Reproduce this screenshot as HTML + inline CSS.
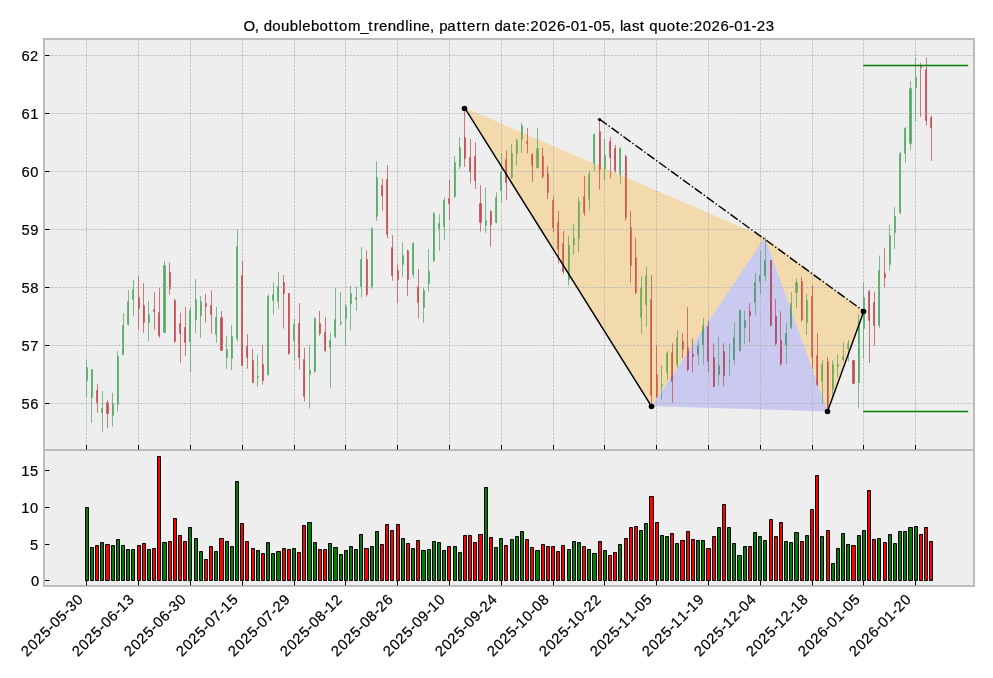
<!DOCTYPE html>
<html><head><meta charset="utf-8"><title>chart</title>
<style>html,body{margin:0;padding:0;background:#fff;}body{width:993px;height:678px;overflow:hidden;font-family:"Liberation Sans",sans-serif;}svg{display:block;}</style>
</head><body>
<svg width="993" height="678" viewBox="0 0 993 678">
<rect x="0" y="0" width="993" height="678" fill="#ffffff"/>
<rect x="44.0" y="39.0" width="930.0" height="547.0" fill="#eeeeee"/>
<path d="M86.15 367.15H87.85V380.85H86.15zM91.15 369.15H92.85V397.85H91.15zM101.15 408.15H102.85V412.85H101.15zM112.15 403.15H113.85V415.85H112.15zM117.15 356.15H118.85V404.85H117.15zM122.15 325.15H123.85V354.85H122.15zM127.15 301.15H128.85V324.85H127.15zM132.15 289.15H133.85V299.85H132.15zM148.15 314.15H149.85V322.85H148.15zM163.15 265.15H165.85V332.85H163.15zM189.15 310.15H190.85V341.85H189.15zM195.15 299.15H196.85V319.85H195.15zM200.15 301.15H201.85V315.85H200.15zM215.15 317.15H216.85V334.85H215.15zM226.15 349.15H227.85V357.85H226.15zM231.15 336.15H232.85V358.85H231.15zM236.15 246.15H237.85V338.85H236.15zM257.15 376.15H258.85V377.85H257.15zM267.15 296.15H268.85V374.85H267.15zM272.15 294.15H273.85V300.85H272.15zM277.15 286.15H278.85V301.85H277.15zM293.15 324.15H294.85V340.85H293.15zM309.15 370.15H310.85V374.85H309.15zM314.15 318.15H315.85V371.85H314.15zM329.15 340.15H330.85V347.85H329.15zM334.15 319.15H335.85V336.85H334.15zM340.15 322.15H341.85V323.85H340.15zM345.15 306.15H346.85V318.85H345.15zM350.15 293.15H351.85V303.85H350.15zM355.15 297.15H356.85V299.85H355.15zM360.15 259.15H361.85V286.85H360.15zM371.15 228.15H372.85V286.85H371.15zM376.15 177.15H377.85V216.85H376.15zM402.15 255.15H403.85V264.85H402.15zM412.15 243.15H413.85V274.85H412.15zM423.15 290.15H424.85V307.85H423.15zM428.15 271.15H429.85V283.85H428.15zM433.15 213.15H434.85V260.85H433.15zM438.15 223.15H439.85V228.85H438.15zM443.15 200.15H444.85V226.85H443.15zM454.15 162.15H455.85V196.85H454.15zM459.15 147.15H460.85V166.85H459.15zM485.15 220.15H486.85V225.85H485.15zM495.15 197.15H496.85V222.85H495.15zM500.15 172.15H501.85V190.85H500.15zM511.15 153.15H512.85V177.85H511.15zM516.15 140.15H517.85V153.85H516.15zM521.15 125.15H522.85V139.85H521.15zM536.15 148.15H538.85V167.85H536.15zM568.15 245.15H569.85V279.85H568.15zM573.15 238.15H574.85V244.85H573.15zM578.15 201.15H579.85V238.85H578.15zM588.15 174.15H589.85V199.85H588.15zM593.15 134.15H594.85V163.85H593.15zM604.15 155.15H605.85V168.85H604.15zM619.15 148.15H620.85V174.85H619.15zM640.15 288.15H641.85V317.85H640.15zM645.15 275.15H646.85V304.85H645.15zM661.15 384.15H662.85V385.85H661.15zM666.15 353.15H667.85V372.85H666.15zM676.15 337.15H677.85V364.85H676.15zM697.15 345.15H698.85V354.85H697.15zM702.15 325.15H703.85V344.85H702.15zM718.15 365.15H719.85V374.85H718.15zM728.15 361.15H729.85V361.85H728.15zM733.15 337.15H734.85V359.85H733.15zM739.15 310.15H740.85V350.85H739.15zM744.15 320.15H745.85V327.85H744.15zM754.15 282.15H755.85V302.85H754.15zM759.15 275.15H760.85V281.85H759.15zM764.15 260.15H765.85V275.85H764.15zM785.15 333.15H786.85V345.85H785.15zM790.15 303.15H791.85V327.85H790.15zM795.15 282.15H797.85V292.85H795.15zM806.15 300.15H807.85V322.85H806.15zM821.15 364.15H822.85V381.85H821.15zM832.15 364.15H833.85V389.85H832.15zM837.15 364.15H838.85V366.85H837.15zM842.15 356.15H843.85V359.85H842.15zM847.15 343.15H848.85V348.85H847.15zM858.15 323.15H859.85V382.85H858.15zM863.15 297.15H864.85V328.85H863.15zM878.15 270.15H879.85V325.85H878.15zM889.15 235.15H890.85V264.85H889.15zM894.15 216.15H895.85V232.85H894.15zM899.15 153.15H900.85V212.85H899.15zM904.15 128.15H905.85V153.85H904.15zM909.15 88.15H911.85V143.85H909.15zM915.15 77.15H916.85V87.85H915.15z" fill="#55A868"/>
<path d="M96.15 390.15H97.85V402.85H96.15zM106.15 402.15H108.85V413.85H106.15zM138.15 297.15H139.85V308.85H138.15zM143.15 305.15H144.85V322.85H143.15zM153.15 309.15H154.85V311.85H153.15zM158.15 312.15H159.85V335.85H158.15zM169.15 272.15H170.85V288.85H169.15zM174.15 300.15H175.85V341.85H174.15zM179.15 323.15H180.85V333.85H179.15zM184.15 327.15H185.85V342.85H184.15zM205.15 303.15H206.85V306.85H205.15zM210.15 305.15H211.85V314.85H210.15zM220.15 317.15H222.85V350.85H220.15zM241.15 275.15H242.85V365.85H241.15zM246.15 346.15H247.85V357.85H246.15zM252.15 360.15H253.85V382.85H252.15zM262.15 364.15H263.85V380.85H262.15zM283.15 282.15H284.85V293.85H283.15zM288.15 293.15H289.85V353.85H288.15zM298.15 323.15H299.85V357.85H298.15zM303.15 359.15H304.85V396.85H303.15zM319.15 323.15H320.85V333.85H319.15zM324.15 332.15H325.85V350.85H324.15zM366.15 259.15H367.85V294.85H366.15zM381.15 185.15H382.85V195.85H381.15zM386.15 179.15H387.85V234.85H386.15zM391.15 247.15H392.85V275.85H391.15zM397.15 270.15H398.85V279.85H397.15zM407.15 250.15H408.85V279.85H407.15zM417.15 286.15H418.85V302.85H417.15zM448.15 198.15H449.85V203.85H448.15zM464.15 137.15H465.85V158.85H464.15zM469.15 157.15H470.85V171.85H469.15zM474.15 156.15H475.85V180.85H474.15zM479.15 203.15H481.85V222.85H479.15zM490.15 211.15H491.85V224.85H490.15zM505.15 159.15H506.85V182.85H505.15zM526.15 141.15H527.85V143.85H526.15zM531.15 154.15H532.85V165.85H531.15zM542.15 156.15H543.85V176.85H542.15zM547.15 173.15H548.85V192.85H547.15zM552.15 200.15H553.85V227.85H552.15zM557.15 222.15H558.85V249.85H557.15zM562.15 243.15H563.85V271.85H562.15zM583.15 196.15H584.85V212.85H583.15zM599.15 131.15H600.85V169.85H599.15zM609.15 141.15H610.85V157.85H609.15zM614.15 148.15H615.85V170.85H614.15zM625.15 156.15H626.85V217.85H625.15zM630.15 227.15H631.85V265.85H630.15zM635.15 257.15H636.85V292.85H635.15zM650.15 299.15H651.85V395.85H650.15zM656.15 374.15H657.85V396.85H656.15zM671.15 352.15H672.85V381.85H671.15zM682.15 341.15H683.85V349.85H682.15zM687.15 347.15H688.85V369.85H687.15zM692.15 354.15H693.85V356.85H692.15zM707.15 326.15H708.85V361.85H707.15zM713.15 357.15H714.85V386.85H713.15zM723.15 351.15H724.85V375.85H723.15zM749.15 311.15H750.85V315.85H749.15zM770.15 260.15H771.85V325.85H770.15zM775.15 316.15H776.85V343.85H775.15zM780.15 340.15H781.85V363.85H780.15zM801.15 281.15H802.85V319.85H801.15zM811.15 296.15H812.85V357.85H811.15zM816.15 355.15H817.85V384.85H816.15zM827.15 361.15H828.85V407.85H827.15zM852.15 360.15H854.85V383.85H852.15zM868.15 291.15H869.85V320.85H868.15zM873.15 302.15H874.85V325.85H873.15zM884.15 273.15H885.85V277.85H884.15zM920.15 65.15H921.85V67.85H920.15zM925.15 69.15H926.85V120.85H925.15zM930.15 117.15H931.85V127.85H930.15z" fill="#C44E52"/>
<polygon points="464.97,107.9 764.93,237.4 651.46,406.2" fill="#ffa500" fill-opacity="0.27"/>
<polygon points="764.93,237.4 863.86,311.3 827.60,411.4" fill="#ffa500" fill-opacity="0.27"/>
<polygon points="651.46,406.2 764.93,237.4 827.60,411.4" fill="#0000ff" fill-opacity="0.15"/>
<g stroke="#b2b2b2" stroke-width="0.7" stroke-dasharray="2.57 1.11" fill="none">
<path d="M86.5 450.0V39.0"/>
<path d="M138.5 450.0V39.0"/>
<path d="M190.5 450.0V39.0"/>
<path d="M242.5 450.0V39.0"/>
<path d="M294.5 450.0V39.0"/>
<path d="M345.5 450.0V39.0"/>
<path d="M397.5 450.0V39.0"/>
<path d="M449.5 450.0V39.0"/>
<path d="M501.5 450.0V39.0"/>
<path d="M553.5 450.0V39.0"/>
<path d="M604.5 450.0V39.0"/>
<path d="M656.5 450.0V39.0"/>
<path d="M708.5 450.0V39.0"/>
<path d="M760.5 450.0V39.0"/>
<path d="M812.5 450.0V39.0"/>
<path d="M863.5 450.0V39.0"/>
<path d="M915.5 450.0V39.0"/>
<path d="M44.0 403.5H974.0"/>
<path d="M44.0 345.5H974.0"/>
<path d="M44.0 287.5H974.0"/>
<path d="M44.0 229.5H974.0"/>
<path d="M44.0 171.5H974.0"/>
<path d="M44.0 113.5H974.0"/>
<path d="M44.0 55.5H974.0"/>
</g>
<path d="M86.5 360.2V397.8M91.5 369.0V422.9M102.5 391.1V431.7M112.5 392.8V426.6M117.5 351.0V411.6M123.5 313.1V355.2M128.5 290.1V325.6M133.5 280.0V315.9M148.5 300.9V340.8M164.5 260.8V332.8M190.5 307.2V372.1M195.5 278.9V332.8M200.5 295.9V337.8M216.5 307.0V342.8M226.5 336.0V369.1M231.5 324.7V370.4M237.5 229.5V341.5M257.5 354.8V386.6M268.5 294.4V375.8M273.5 282.1V314.7M278.5 272.1V308.9M294.5 318.9V360.3M309.5 345.3V408.7M314.5 316.9V372.8M330.5 332.7V387.9M335.5 288.1V338.2M340.5 291.9V325.7M345.5 303.9V345.3M350.5 285.9V330.2M356.5 286.4V310.9M361.5 247.2V297.4M371.5 227.2V288.6M376.5 161.3V220.7M402.5 242.2V276.6M413.5 242.2V277.8M423.5 287.3V322.9M428.5 249.0V291.6M433.5 211.9V262.3M439.5 214.4V250.8M444.5 197.8V239.9M454.5 155.9V197.8M459.5 137.1V169.4M485.5 187.7V232.8M496.5 192.0V223.3M501.5 153.1V202.8M511.5 143.9V179.0M516.5 138.9V165.7M521.5 123.1V153.1M537.5 128.1V168.4M568.5 236.1V285.6M573.5 223.5V254.9M578.5 197.0V252.4M589.5 170.9V210.3M594.5 133.1V170.9M604.5 138.8V180.2M620.5 147.1V183.9M641.5 276.3V334.0M646.5 267.1V326.5M661.5 365.3V400.4M667.5 351.1V380.4M677.5 330.3V367.8M698.5 341.0V365.3M703.5 318.2V364.6M718.5 336.5V385.4M729.5 343.3V376.6M734.5 322.2V364.6M739.5 308.9V352.3M744.5 311.0V344.0M755.5 272.6V315.2M760.5 250.8V294.4M765.5 237.0V281.4M786.5 322.8V363.9M791.5 292.0V329.1M796.5 278.2V308.4M806.5 294.0V334.9M822.5 360.2V403.3M832.5 360.2V397.0M837.5 354.4V377.4M843.5 342.1V361.5M848.5 340.0V361.5M858.5 314.2V408.5M863.5 282.5V358.7M879.5 255.6V328.1M889.5 224.6V270.6M894.5 206.7V249.0M900.5 152.0V214.7M905.5 127.0V162.9M910.5 81.0V150.0M915.5 57.4V121.2" stroke="#55A868" stroke-width="0.75" fill="none"/>
<path d="M97.5 384.0V412.9M107.5 400.3V428.4M138.5 276.4V329.8M143.5 283.1V332.8M154.5 292.2V329.8M159.5 287.7V337.8M169.5 262.6V294.7M174.5 298.9V342.8M180.5 312.7V362.8M185.5 307.2V355.8M205.5 293.9V322.7M211.5 290.2V333.5M221.5 311.0V350.8M242.5 260.8V365.8M247.5 334.0V368.6M252.5 349.0V382.8M262.5 345.3V384.6M283.5 275.1V328.5M288.5 293.1V354.8M299.5 303.1V369.6M304.5 347.8V401.6M319.5 310.9V335.7M325.5 316.9V352.0M366.5 250.3V296.6M382.5 178.8V210.7M387.5 165.0V238.5M392.5 235.2V280.8M397.5 264.8V303.4M407.5 249.7V295.9M418.5 269.0V318.4M449.5 179.7V219.8M464.5 108.3V166.9M470.5 138.9V183.5M475.5 142.1V189.0M480.5 185.2V231.6M490.5 210.3V246.6M506.5 150.1V200.3M527.5 128.1V153.4M532.5 153.1V182.0M542.5 147.6V178.5M547.5 166.4V199.0M553.5 196.5V232.3M558.5 211.0V263.4M563.5 231.1V274.2M584.5 175.9V215.8M599.5 119.3V189.7M610.5 136.8V178.2M615.5 145.1V172.7M625.5 154.6V220.8M630.5 211.0V282.6M635.5 237.8V294.4M651.5 275.1V406.2M656.5 345.3V398.0M672.5 343.3V402.9M682.5 332.8V358.3M687.5 307.2V371.6M692.5 338.3V372.4M708.5 320.7V372.4M713.5 343.3V387.4M723.5 343.3V386.1M749.5 303.2V342.3M770.5 260.1V326.5M775.5 299.2V345.8M780.5 311.3V365.9M801.5 276.8V321.9M812.5 285.4V368.8M817.5 332.9V386.1M827.5 357.1V411.4M853.5 360.2V383.7M869.5 289.7V363.1M874.5 291.7V345.8M884.5 248.2V287.0M920.5 62.8V116.9M926.5 57.9V125.5M931.5 115.5V160.9" stroke="#C44E52" stroke-width="0.75" fill="none"/>
<g stroke="#000" stroke-width="1.45" fill="none">
<path d="M464.97 108.3L651.46 406.2" stroke-linecap="square"/>
<path d="M827.60 411.4L863.86 311.3" stroke-linecap="square"/>
<path d="M599.66 119.3L863.86 311.3" stroke-dasharray="8.9 2.2 1.4 2.2"/>
</g>
<circle cx="464.5" cy="108.5" r="2.8" fill="#000"/>
<circle cx="651.5" cy="406.5" r="2.8" fill="#000"/>
<circle cx="827.5" cy="411.5" r="2.8" fill="#000"/>
<circle cx="863.5" cy="311.5" r="2.8" fill="#000"/>
<circle cx="599.5" cy="119.5" r="1.6" fill="#000"/>
<g stroke="#008000" stroke-width="1.4" fill="none" stroke-linecap="square">
<path d="M863.86 65.5H967.47"/>
<path d="M863.86 411.5H967.47"/>
</g>
<path d="M85.5 507.5H88.5V580.5H85.5zM90.5 547.5H93.5V580.5H90.5zM100.5 542.5H103.5V580.5H100.5zM111.5 545.5H114.5V580.5H111.5zM116.5 539.5H119.5V580.5H116.5zM121.5 545.5H124.5V580.5H121.5zM126.5 549.5H129.5V580.5H126.5zM131.5 549.5H134.5V580.5H131.5zM147.5 549.5H150.5V580.5H147.5zM162.5 542.5H166.5V580.5H162.5zM188.5 527.5H191.5V580.5H188.5zM194.5 538.5H197.5V580.5H194.5zM199.5 551.5H202.5V580.5H199.5zM214.5 551.5H217.5V580.5H214.5zM225.5 541.5H228.5V580.5H225.5zM230.5 546.5H233.5V580.5H230.5zM235.5 481.5H238.5V580.5H235.5zM256.5 550.5H259.5V580.5H256.5zM266.5 542.5H269.5V580.5H266.5zM271.5 553.5H274.5V580.5H271.5zM276.5 551.5H280.5V580.5H276.5zM292.5 548.5H295.5V580.5H292.5zM307.5 522.5H311.5V580.5H307.5zM313.5 542.5H316.5V580.5H313.5zM328.5 543.5H331.5V580.5H328.5zM333.5 547.5H337.5V580.5H333.5zM339.5 554.5H342.5V580.5H339.5zM344.5 550.5H347.5V580.5H344.5zM349.5 546.5H352.5V580.5H349.5zM354.5 549.5H357.5V580.5H354.5zM359.5 534.5H362.5V580.5H359.5zM370.5 546.5H373.5V580.5H370.5zM375.5 531.5H378.5V580.5H375.5zM401.5 538.5H404.5V580.5H401.5zM411.5 548.5H414.5V580.5H411.5zM421.5 550.5H425.5V580.5H421.5zM427.5 549.5H430.5V580.5H427.5zM432.5 541.5H435.5V580.5H432.5zM437.5 542.5H440.5V580.5H437.5zM442.5 550.5H445.5V580.5H442.5zM453.5 546.5H456.5V580.5H453.5zM458.5 552.5H461.5V580.5H458.5zM484.5 487.5H487.5V580.5H484.5zM494.5 547.5H497.5V580.5H494.5zM499.5 538.5H502.5V580.5H499.5zM510.5 539.5H513.5V580.5H510.5zM515.5 536.5H518.5V580.5H515.5zM520.5 531.5H523.5V580.5H520.5zM535.5 550.5H539.5V580.5H535.5zM567.5 549.5H570.5V580.5H567.5zM572.5 541.5H575.5V580.5H572.5zM577.5 542.5H580.5V580.5H577.5zM587.5 549.5H590.5V580.5H587.5zM592.5 553.5H596.5V580.5H592.5zM603.5 550.5H606.5V580.5H603.5zM618.5 544.5H621.5V580.5H618.5zM639.5 530.5H642.5V580.5H639.5zM644.5 523.5H647.5V580.5H644.5zM660.5 535.5H663.5V580.5H660.5zM665.5 536.5H668.5V580.5H665.5zM675.5 543.5H678.5V580.5H675.5zM696.5 540.5H699.5V580.5H696.5zM701.5 540.5H704.5V580.5H701.5zM717.5 527.5H720.5V580.5H717.5zM727.5 527.5H730.5V580.5H727.5zM732.5 543.5H735.5V580.5H732.5zM737.5 555.5H741.5V580.5H737.5zM743.5 546.5H746.5V580.5H743.5zM753.5 532.5H756.5V580.5H753.5zM758.5 536.5H761.5V580.5H758.5zM763.5 540.5H766.5V580.5H763.5zM784.5 541.5H787.5V580.5H784.5zM789.5 542.5H792.5V580.5H789.5zM794.5 532.5H798.5V580.5H794.5zM805.5 535.5H808.5V580.5H805.5zM820.5 536.5H823.5V580.5H820.5zM831.5 563.5H834.5V580.5H831.5zM836.5 548.5H839.5V580.5H836.5zM841.5 533.5H844.5V580.5H841.5zM846.5 544.5H849.5V580.5H846.5zM857.5 535.5H860.5V580.5H857.5zM862.5 530.5H865.5V580.5H862.5zM877.5 538.5H880.5V580.5H877.5zM888.5 534.5H891.5V580.5H888.5zM893.5 543.5H896.5V580.5H893.5zM898.5 531.5H901.5V580.5H898.5zM903.5 531.5H906.5V580.5H903.5zM908.5 527.5H912.5V580.5H908.5zM914.5 526.5H917.5V580.5H914.5z" fill="#008000" stroke="#000" stroke-width="1"/>
<path d="M95.5 545.5H98.5V580.5H95.5zM105.5 544.5H109.5V580.5H105.5zM137.5 545.5H140.5V580.5H137.5zM142.5 543.5H145.5V580.5H142.5zM152.5 548.5H155.5V580.5H152.5zM157.5 456.5H160.5V580.5H157.5zM168.5 541.5H171.5V580.5H168.5zM173.5 518.5H176.5V580.5H173.5zM178.5 535.5H181.5V580.5H178.5zM183.5 541.5H186.5V580.5H183.5zM204.5 559.5H207.5V580.5H204.5zM209.5 546.5H212.5V580.5H209.5zM219.5 538.5H223.5V580.5H219.5zM240.5 523.5H243.5V580.5H240.5zM245.5 541.5H248.5V580.5H245.5zM251.5 548.5H254.5V580.5H251.5zM261.5 553.5H264.5V580.5H261.5zM282.5 548.5H285.5V580.5H282.5zM287.5 549.5H290.5V580.5H287.5zM297.5 552.5H300.5V580.5H297.5zM302.5 525.5H305.5V580.5H302.5zM318.5 549.5H321.5V580.5H318.5zM323.5 549.5H326.5V580.5H323.5zM364.5 548.5H368.5V580.5H364.5zM380.5 544.5H383.5V580.5H380.5zM385.5 524.5H388.5V580.5H385.5zM390.5 530.5H393.5V580.5H390.5zM396.5 524.5H399.5V580.5H396.5zM406.5 543.5H409.5V580.5H406.5zM416.5 540.5H419.5V580.5H416.5zM447.5 546.5H450.5V580.5H447.5zM463.5 535.5H466.5V580.5H463.5zM468.5 535.5H471.5V580.5H468.5zM473.5 542.5H476.5V580.5H473.5zM478.5 534.5H482.5V580.5H478.5zM489.5 537.5H492.5V580.5H489.5zM504.5 545.5H507.5V580.5H504.5zM525.5 539.5H528.5V580.5H525.5zM530.5 547.5H533.5V580.5H530.5zM541.5 544.5H544.5V580.5H541.5zM546.5 546.5H549.5V580.5H546.5zM551.5 546.5H554.5V580.5H551.5zM556.5 551.5H559.5V580.5H556.5zM561.5 545.5H564.5V580.5H561.5zM582.5 546.5H585.5V580.5H582.5zM598.5 541.5H601.5V580.5H598.5zM608.5 555.5H611.5V580.5H608.5zM613.5 552.5H616.5V580.5H613.5zM624.5 538.5H627.5V580.5H624.5zM629.5 527.5H632.5V580.5H629.5zM634.5 526.5H637.5V580.5H634.5zM649.5 496.5H653.5V580.5H649.5zM655.5 522.5H658.5V580.5H655.5zM670.5 533.5H673.5V580.5H670.5zM680.5 540.5H684.5V580.5H680.5zM686.5 531.5H689.5V580.5H686.5zM691.5 539.5H694.5V580.5H691.5zM706.5 548.5H710.5V580.5H706.5zM712.5 536.5H715.5V580.5H712.5zM722.5 504.5H725.5V580.5H722.5zM748.5 546.5H751.5V580.5H748.5zM769.5 519.5H772.5V580.5H769.5zM774.5 536.5H777.5V580.5H774.5zM779.5 522.5H782.5V580.5H779.5zM800.5 541.5H803.5V580.5H800.5zM810.5 509.5H813.5V580.5H810.5zM815.5 475.5H818.5V580.5H815.5zM826.5 530.5H829.5V580.5H826.5zM851.5 545.5H855.5V580.5H851.5zM867.5 490.5H870.5V580.5H867.5zM872.5 539.5H875.5V580.5H872.5zM883.5 542.5H886.5V580.5H883.5zM919.5 534.5H922.5V580.5H919.5zM924.5 527.5H927.5V580.5H924.5zM929.5 541.5H932.5V580.5H929.5z" fill="#ff0000" stroke="#000" stroke-width="1"/>
<g stroke="#bcbcbc" stroke-width="2" fill="none">
<rect x="44.0" y="39.0" width="930.0" height="547.0"/>
<path d="M44.0 450.0H974.0"/>
</g>
<g stroke="#000" stroke-width="1" fill="none">
<path d="M86.5 449.3v-4.3"/>
<path d="M86.5 585.3v-4.3"/>
<path d="M138.5 449.3v-4.3"/>
<path d="M138.5 585.3v-4.3"/>
<path d="M190.5 449.3v-4.3"/>
<path d="M190.5 585.3v-4.3"/>
<path d="M242.5 449.3v-4.3"/>
<path d="M242.5 585.3v-4.3"/>
<path d="M294.5 449.3v-4.3"/>
<path d="M294.5 585.3v-4.3"/>
<path d="M345.5 449.3v-4.3"/>
<path d="M345.5 585.3v-4.3"/>
<path d="M397.5 449.3v-4.3"/>
<path d="M397.5 585.3v-4.3"/>
<path d="M449.5 449.3v-4.3"/>
<path d="M449.5 585.3v-4.3"/>
<path d="M501.5 449.3v-4.3"/>
<path d="M501.5 585.3v-4.3"/>
<path d="M553.5 449.3v-4.3"/>
<path d="M553.5 585.3v-4.3"/>
<path d="M604.5 449.3v-4.3"/>
<path d="M604.5 585.3v-4.3"/>
<path d="M656.5 449.3v-4.3"/>
<path d="M656.5 585.3v-4.3"/>
<path d="M708.5 449.3v-4.3"/>
<path d="M708.5 585.3v-4.3"/>
<path d="M760.5 449.3v-4.3"/>
<path d="M760.5 585.3v-4.3"/>
<path d="M812.5 449.3v-4.3"/>
<path d="M812.5 585.3v-4.3"/>
<path d="M863.5 449.3v-4.3"/>
<path d="M863.5 585.3v-4.3"/>
<path d="M915.5 449.3v-4.3"/>
<path d="M915.5 585.3v-4.3"/>
<path d="M45.0 403.5h4.5"/>
<path d="M45.0 345.5h4.5"/>
<path d="M45.0 287.5h4.5"/>
<path d="M45.0 229.5h4.5"/>
<path d="M45.0 171.5h4.5"/>
<path d="M45.0 113.5h4.5"/>
<path d="M45.0 55.5h4.5"/>
<path d="M45.0 580.5h4.5"/>
<path d="M45.0 544.5h4.5"/>
<path d="M45.0 507.5h4.5"/>
<path d="M45.0 470.5h4.5"/>
</g>
<g font-family="'Liberation Sans', sans-serif" fill="#000" stroke="#000" stroke-width="0.22" opacity="0.999" xml:space="preserve">
<text transform="scale(1.0400 1)" font-size="14.40" x="234.05 244.86 249.23 253.50 261.89 270.15 278.71 287.11 290.69 299.07 307.30 315.95 321.17 325.90 334.51 346.31 354.19 359.43 364.44 372.76 381.11 389.67 393.37 397.07 405.39 413.44 417.81 422.24 429.96 439.13 444.35 449.13 457.79 462.93 471.24 475.51 483.39 492.56 497.33 505.65 509.95 518.60 526.91 535.56 543.81 548.84 557.25 565.57 570.61 579.03 587.31 591.68 596.05 599.07 607.63 615.18 619.95 624.21 632.72 641.05 649.69 654.47 662.79 667.09 675.74 684.04 692.70 700.95 705.98 714.38 722.71 727.57 736.24" y="31.30">O, doublebottom_trendline, pattern date:2026-01-05, last quote:2026-01-23</text>
<text font-size="14.70" x="21.40 30.29" y="408.80">56</text>
<text font-size="14.70" x="21.40 30.26" y="350.80">57</text>
<text font-size="14.70" x="21.40 30.29" y="292.80">58</text>
<text font-size="14.70" x="21.40 30.25" y="234.80">59</text>
<text font-size="14.70" x="21.45 30.29" y="176.80">60</text>
<text font-size="14.70" x="21.45 30.22" y="118.80">61</text>
<text font-size="14.70" x="21.45 30.11" y="60.80">62</text>
<text font-size="14.70" x="30.99" y="585.70">0</text>
<text font-size="14.70" x="30.04" y="549.70">5</text>
<text font-size="14.70" x="21.18 30.09" y="512.70">10</text>
<text font-size="14.70" x="21.18 30.04" y="475.70">15</text>
<text transform="translate(74.90 591.20) rotate(-45)" font-size="14.70" x="-80.57 -71.55 -62.90 -53.93 -45.31 -40.03 -31.25 -22.63 -17.33 -8.51" y="12.90">2025-05-30</text>
<text transform="translate(125.90 591.20) rotate(-45)" font-size="14.70" x="-80.57 -71.55 -62.90 -53.93 -45.31 -40.03 -31.19 -22.63 -17.42 -8.49" y="12.90">2025-06-13</text>
<text transform="translate(177.90 591.20) rotate(-45)" font-size="14.70" x="-80.57 -71.55 -62.90 -53.93 -45.31 -40.03 -31.19 -22.63 -17.33 -8.51" y="12.90">2025-06-30</text>
<text transform="translate(229.90 591.20) rotate(-45)" font-size="14.70" x="-80.57 -71.55 -62.90 -53.93 -45.31 -40.03 -31.22 -22.63 -17.42 -8.56" y="12.90">2025-07-15</text>
<text transform="translate(281.90 591.20) rotate(-45)" font-size="14.70" x="-80.57 -71.55 -62.90 -53.93 -45.31 -40.03 -31.22 -22.63 -17.53 -8.55" y="12.90">2025-07-29</text>
<text transform="translate(333.90 591.20) rotate(-45)" font-size="14.70" x="-80.57 -71.55 -62.90 -53.93 -45.31 -40.03 -31.19 -22.63 -17.42 -8.69" y="12.90">2025-08-12</text>
<text transform="translate(384.90 591.20) rotate(-45)" font-size="14.70" x="-80.57 -71.55 -62.90 -53.93 -45.31 -40.03 -31.19 -22.63 -17.53 -8.51" y="12.90">2025-08-26</text>
<text transform="translate(436.90 591.20) rotate(-45)" font-size="14.70" x="-80.57 -71.55 -62.90 -53.93 -45.31 -40.03 -31.24 -22.63 -17.42 -8.51" y="12.90">2025-09-10</text>
<text transform="translate(488.90 591.20) rotate(-45)" font-size="14.70" x="-80.57 -71.55 -62.90 -53.93 -45.31 -40.03 -31.24 -22.63 -17.53 -8.51" y="12.90">2025-09-24</text>
<text transform="translate(540.90 591.20) rotate(-45)" font-size="14.70" x="-80.57 -71.55 -62.90 -53.93 -45.31 -40.11 -31.19 -22.63 -17.35 -8.51" y="12.90">2025-10-08</text>
<text transform="translate(592.90 591.20) rotate(-45)" font-size="14.70" x="-80.57 -71.55 -62.90 -53.93 -45.31 -40.11 -31.19 -22.63 -17.53 -8.69" y="12.90">2025-10-22</text>
<text transform="translate(643.90 591.20) rotate(-45)" font-size="14.70" x="-80.57 -71.55 -62.90 -53.93 -45.31 -40.11 -31.27 -22.63 -17.35 -8.56" y="12.90">2025-11-05</text>
<text transform="translate(695.90 591.20) rotate(-45)" font-size="14.70" x="-80.57 -71.55 -62.90 -53.93 -45.31 -40.11 -31.27 -22.63 -17.42 -8.55" y="12.90">2025-11-19</text>
<text transform="translate(747.90 591.20) rotate(-45)" font-size="14.70" x="-80.57 -71.55 -62.90 -53.93 -45.31 -40.11 -31.38 -22.63 -17.35 -8.51" y="12.90">2025-12-04</text>
<text transform="translate(799.90 591.20) rotate(-45)" font-size="14.70" x="-80.57 -71.55 -62.90 -53.93 -45.31 -40.11 -31.38 -22.63 -17.42 -8.51" y="12.90">2025-12-18</text>
<text transform="translate(851.90 591.20) rotate(-45)" font-size="14.70" x="-80.57 -71.55 -62.90 -53.88 -45.31 -40.03 -31.27 -22.63 -17.35 -8.56" y="12.90">2026-01-05</text>
<text transform="translate(902.90 591.20) rotate(-45)" font-size="14.70" x="-80.57 -71.55 -62.90 -53.88 -45.31 -40.03 -31.27 -22.63 -17.53 -8.51" y="12.90">2026-01-20</text>
</g>
</svg>
</body></html>
